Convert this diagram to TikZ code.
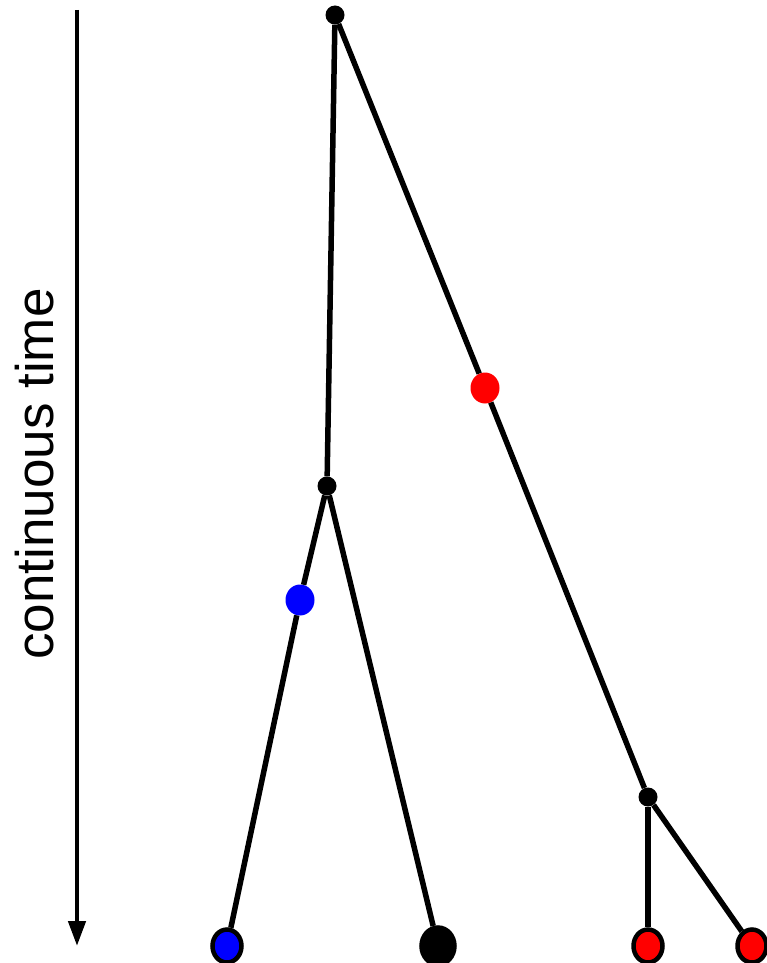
\documentclass[tikz,border=0pt]{standalone}
\usepackage{fontspec}
\setmainfont{Liberation Sans}
\usetikzlibrary{shapes.geometric,arrows.meta,positioning}

\begin{document}
\begin{tikzpicture}[
  x=1pt, y=-1pt,                     % pixel-like units, y downwards
  every node/.style={inner sep=0pt},
  branch/.style={line width=5.5pt},
  split/.style={circle, fill=black, minimum size=19pt},
  mutation/.style={ellipse, minimum width=29pt, minimum height=31pt},
  leaf/.style={ellipse, draw=black, line width=4.5pt, minimum width=29pt, minimum height=33pt},
  timearrow/.style={line width=4.5pt, -{Triangle[length=25pt,width=17pt]}}
]
\useasboundingbox (0,0) rectangle (766,963);

% time axis
\coordinate (t0) at (77,10);
\coordinate (t1) at (77,946);
\draw[timearrow] (t0) -- (t1);
\node[rotate=90, font=\fontsize{53}{60}\selectfont] (lab) at (35,474) {continuous time};

% splits
\node[split] (root) at (335,15) {};
\node[split] (a) at (327,486) {};
\node[split] (b) at (648,797) {};

% mutations
\node[mutation, fill=red] (mr) at (485,388) {};
\node[mutation, fill=blue] (mb) at (300,600) {};

% tips
\node[leaf, fill=blue] (l1) at (227,946) {};
\node[leaf, fill=black, minimum width=33pt, minimum height=37pt] (l2) at (438,946) {};
\node[leaf, fill=red] (l3) at (648,946) {};
\node[leaf, fill=red] (l4) at (752,946) {};

% branches
\draw[branch] (root) -- (a);
\draw[branch] (root) -- (mr) -- (b);
\draw[branch] (a) -- (mb) -- (l1);
\draw[branch] (a) -- (l2);
\draw[branch] (b) -- (l3);
\draw[branch] (b) -- (l4);
\end{tikzpicture}
\end{document}
